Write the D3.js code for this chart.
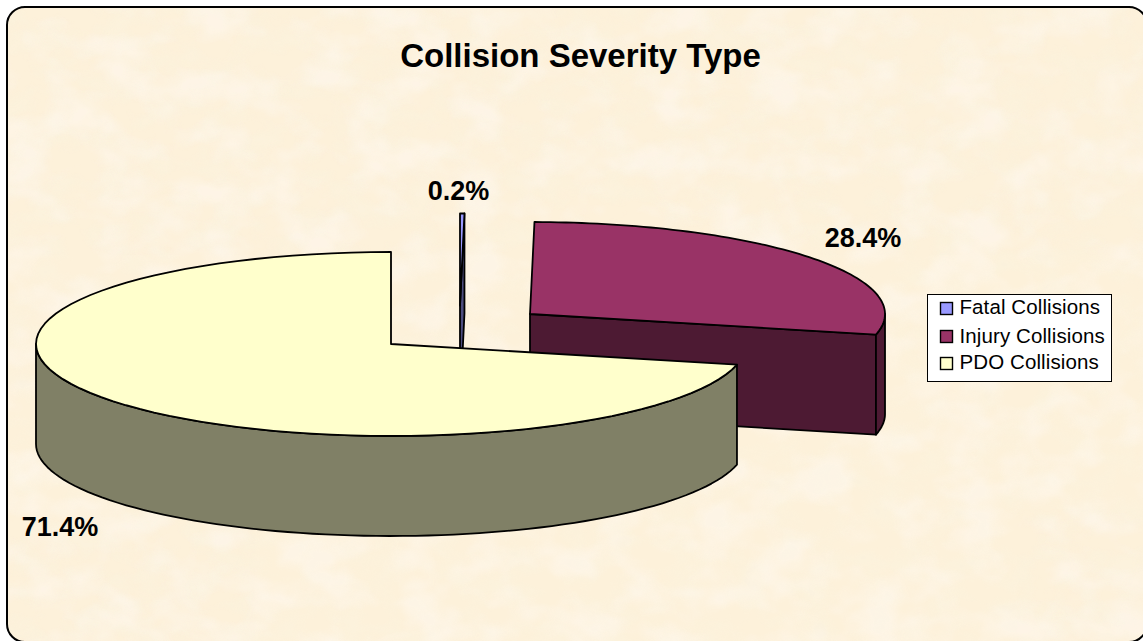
<!DOCTYPE html>
<html><head><meta charset="utf-8">
<script src="https://cdnjs.cloudflare.com/ajax/libs/d3/7.8.5/d3.min.js"></script>
<style>html,body{margin:0;padding:0;background:#fff;overflow:hidden}svg{display:block}text{font-family:"Liberation Sans",Arial,sans-serif;fill:#000}</style>
</head><body><div id="c"></div>
<script>
const categories = ["Fatal Collisions","Injury Collisions","PDO Collisions"];
const values = [0.2,28.4,71.4];
const valueLabels = ["0.2%","28.4%","71.4%"];
const titleText = "Collision Severity Type";
const topColors = ["#9999FF","#993366","#FFFFCC"];
const sideColors = ["#4D4D80","#4D1A33","#808066"];

const W=1143,H=641, rx=355, ry=92, depth=100;
const centers=[[460,305.5],[530,314],[391,344]];
const labelPos=[[458.5,200],[863,247],[60,536]];
const frame={x:7,y:7,width:1140,height:635,rx:18};

const svg=d3.select("#c").append("svg").attr("width",W).attr("height",H);
const defs=svg.append("defs");
function noise(id,seed,freq,color,gain,bias){
  const f=defs.append("filter").attr("id",id).attr("x",0).attr("y",0).attr("width","100%").attr("height","100%");
  f.append("feTurbulence").attr("type","fractalNoise").attr("baseFrequency",freq).attr("numOctaves",3).attr("seed",seed);
  f.append("feColorMatrix").attr("type","matrix").attr("values",`0 0 0 0 ${color[0]}  0 0 0 0 ${color[1]}  0 0 0 0 ${color[2]}  ${gain} 0 0 0 ${bias}`);
}
noise("parchA",11,"0.03 0.04",[0.96,0.90,0.74],2.6,-1.05);
noise("parchB",29,"0.02 0.028",[0.995,0.95,0.90],3.0,-1.25);
const fr=s=>s.attr("x",frame.x).attr("y",frame.y).attr("width",frame.width).attr("height",frame.height).attr("rx",frame.rx);
fr(defs.append("clipPath").attr("id","frame").append("rect"));

fr(svg.append("rect")).attr("fill","#FDF1DA");
const tex=svg.append("g").attr("clip-path","url(#frame)");
tex.append("rect").attr("width",W).attr("height",H).attr("filter","url(#parchA)").attr("opacity",.45);
tex.append("rect").attr("width",W).attr("height",H).attr("filter","url(#parchB)").attr("opacity",.45);
fr(svg.append("rect")).attr("fill","none").attr("stroke","#000").attr("stroke-width",2);

const arcs=d3.pie().sort(null).value(d=>d).startAngle(0).endAngle(2*Math.PI)(values);
const line=d3.line();
const pt=(i,a,dy=0)=>[centers[i][0]+rx*Math.sin(a),centers[i][1]-ry*Math.cos(a)+dy];
const rim=(i,a0,a1,dy=0)=>d3.range(0,81).map(k=>pt(i,a0+(a1-a0)*k/80,dy));
const ctr=(i,dy=0)=>[centers[i][0],centers[i][1]+dy];
const g=svg.append("g").attr("stroke","#000").attr("stroke-width",1.8).attr("stroke-linejoin","round");

function slice(i){
  const a0=arcs[i].startAngle,a1=arcs[i].endAngle;
  if(a1<Math.PI){
    g.append("path").attr("fill",sideColors[i]).attr("d",line([ctr(i),pt(i,a1),pt(i,a1,depth),ctr(i,depth)])+"Z");
  }
  const lo=Math.max(a0,Math.PI/2),hi=Math.min(a1,3*Math.PI/2);
  if(hi>lo){
    g.append("path").attr("fill",sideColors[i]).attr("d",line(rim(i,lo,hi).concat(rim(i,hi,lo,depth)))+"Z");
  }
  g.append("path").attr("fill",topColors[i]).attr("d",line([ctr(i)].concat(rim(i,a0,a1)))+"Z");
}
[0,1,2].forEach(slice);

svg.append("text").attr("x",580.5).attr("y",67).attr("text-anchor","middle").attr("font-size",33).attr("font-weight","bold").text(titleText);
valueLabels.forEach((t,i)=>svg.append("text").attr("x",labelPos[i][0]).attr("y",labelPos[i][1]).attr("text-anchor","middle").attr("font-size",27).attr("font-weight","bold").text(t));

const lg=svg.append("g");
lg.append("rect").attr("x",927.5).attr("y",294.5).attr("width",184).attr("height",87).attr("fill","#fff").attr("stroke","#000").attr("stroke-width",1);
const swY=[302.5,330.5,357.5], txY=[314,343,369];
categories.forEach((c,i)=>{
  lg.append("rect").attr("x",940.5).attr("y",swY[i]).attr("width",12).attr("height",12).attr("fill",topColors[i]).attr("stroke","#000").attr("stroke-width",1.4);
  lg.append("text").attr("x",959.5).attr("y",txY[i]).attr("font-size",20.5).attr("letter-spacing",0.1).text(c);
});
</script></body></html>
